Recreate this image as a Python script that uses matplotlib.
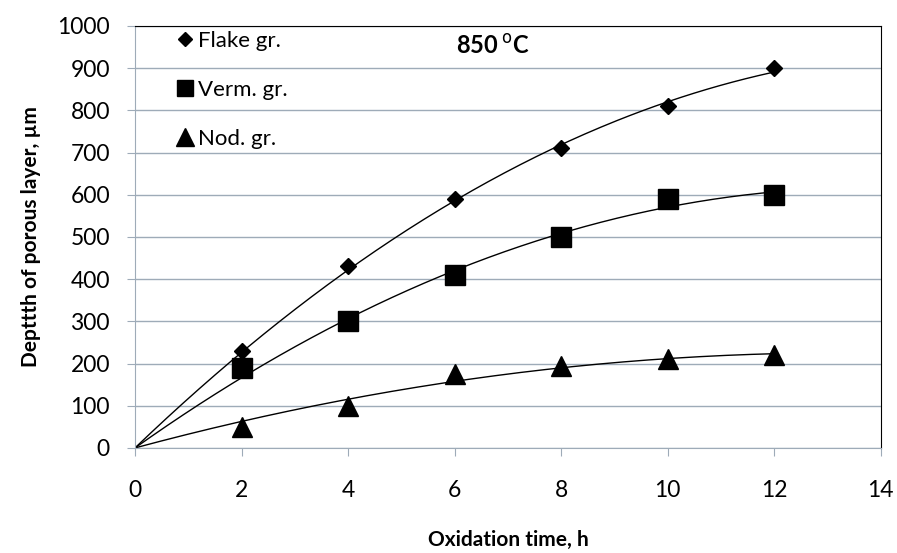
import numpy as np
import matplotlib
matplotlib.use('Agg')
import matplotlib.pyplot as plt

plt.rcParams['font.family'] = ['Lato', 'DejaVu Sans']

time_h = [2, 4, 6, 8, 10, 12]
flake = [230, 430, 590, 710, 810, 900]
verm = [190, 300, 410, 500, 590, 600]
nod = [50, 100, 175, 195, 210, 220]

series = [
    ('Flake gr.', flake, 'D', 8.6),
    ('Verm. gr.', verm, 's', 14),
    ('Nod. gr.', nod, '^', 14.5),
]

grid_col = '#9eabb8'

fig = plt.figure(figsize=(8.97, 5.53), dpi=100)
ax = fig.add_axes([0.1505, 0.19, 0.8315, 0.763])

x = np.array(time_h, dtype=float)
xs = np.linspace(0, 12, 200)
for name, vals, mk, ms in series:
    # excel style 2nd order trendline, intercept 0
    A = np.column_stack([x, x ** 2])
    coef = np.linalg.lstsq(A, np.array(vals, dtype=float), rcond=None)[0]
    ax.plot(xs, coef[0] * xs + coef[1] * xs ** 2, color='black', lw=1.0, zorder=2)
    ax.plot(x, vals, linestyle='none', marker=mk, markersize=ms,
            color='black', label=name, zorder=3)

ax.set_xlim(0, 14)
ax.set_ylim(0, 1000)
ax.set_xticks(range(0, 15, 2))
ax.set_yticks(range(0, 1001, 100))
ax.grid(axis='y', color=grid_col, lw=1.0)
ax.set_axisbelow(True)
for s in ['left', 'bottom']:
    ax.spines[s].set_color(grid_col)
for s in ['top', 'right']:
    ax.spines[s].set_color('black')
ax.tick_params(axis='both', colors=grid_col, labelcolor='black',
               labelsize=16.5, length=6, direction='out')
ax.tick_params(axis='x', pad=17)
ax.tick_params(axis='y', pad=12)

ax.set_xlabel('Oxidation time, h', fontsize=15, fontweight='bold', labelpad=21)
ax.set_ylabel('Depttth of porous layer, \u00b5m', fontsize=15, fontweight='bold', labelpad=12)

ax.text(6.72, 952, r'850$\,^{\mathrm{o}}$C', fontsize=17, fontweight='bold',
        ha='center', va='center')

leg = ax.legend(loc='upper left', bbox_to_anchor=(0.03, 1.035), frameon=False,
                fontsize=16, handlelength=0.7, handletextpad=0.25,
                labelspacing=1.3, markerscale=0.85)

fig.savefig('out.png', dpi=100)
